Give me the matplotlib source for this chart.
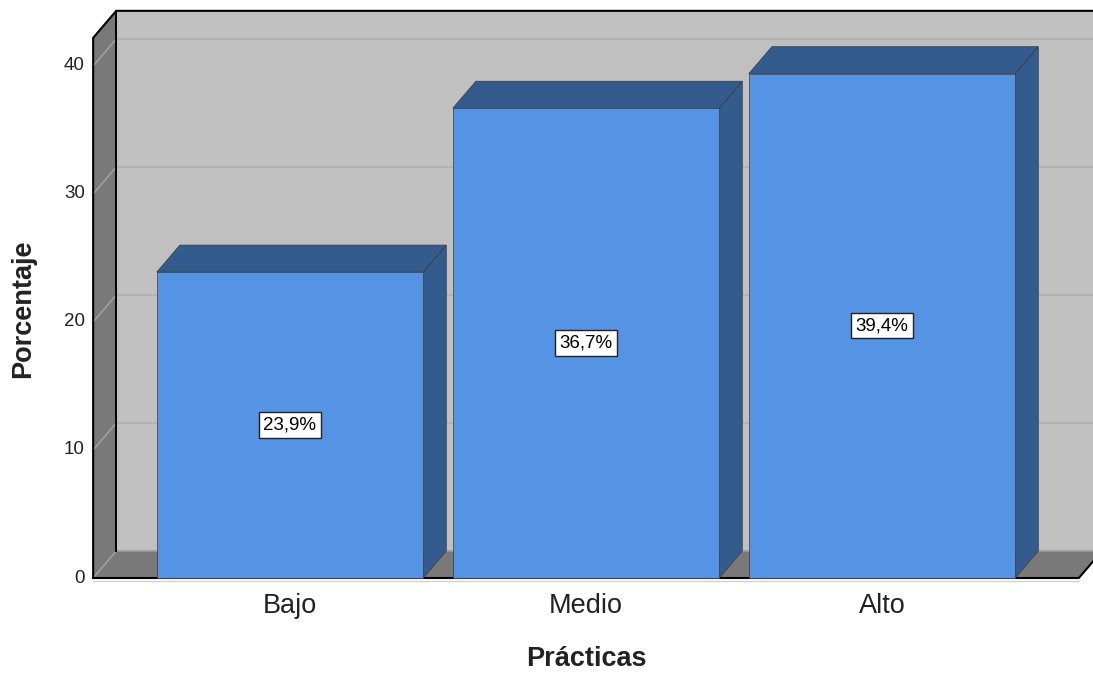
import matplotlib.pyplot as plt
from matplotlib.patches import Polygon

plt.rcParams["font.family"] = ["Liberation Sans", "DejaVu Sans"]

categories = ["Bajo", "Medio", "Alto"]
values = [23.9, 36.7, 39.4]
labels = ["23,9%", "36,7%", "39,4%"]
yticks = [0, 10, 20, 30, 40]
x_title = "Prácticas"
y_title = "Porcentaje"

# pseudo-3D geometry (data units)
BAR_W = 0.9
DX, DY = 0.078, 2.11
X0, X1 = -0.665, 2.665
YMAX = 42.2

FRONT = "#5594E4"
DARK = "#345B8E"
PLANE = "#C0C0C0"
WALL = "#797979"

fig = plt.figure(figsize=(10.93, 6.75), dpi=100)
ax = fig.add_axes([0, 0, 1, 1])
ax.set_xlim(-0.9797, 2.7128)
ax.set_ylim(-7.578, 45.156)
ax.axis("off")


def poly(pts, fc, ec="none", lw=0.0, z=1):
    ax.add_patch(Polygon(pts, closed=True, facecolor=fc, edgecolor=ec, linewidth=lw, zorder=z))


# back plane
poly([(X0 + DX, DY), (X1 + DX, DY), (X1 + DX, YMAX + DY), (X0 + DX, YMAX + DY)], PLANE, z=1)
# floor
poly([(X0, 0), (X1, 0), (X1 + DX, DY), (X0 + DX, DY)], WALL, z=2)
# left wall
poly([(X0, 0), (X0, YMAX), (X0 + DX, YMAX + DY), (X0 + DX, DY)], WALL, z=2)

# grid lines on back plane and left wall
for v in yticks:
    ax.plot([X0 + DX, X1 + DX], [v + DY, v + DY], color="#B0B0B0" if v else "#9C9C9C", lw=1.2, zorder=3)
    ax.plot([X0, X0 + DX], [v, v + DY], color="#A4A4A4", lw=1.0, zorder=3)

# frame lines
ax.plot([X0, X0, X0 + DX, X1 + DX + 0.2], [0, YMAX, YMAX + DY, YMAX + DY], color="black", lw=1.5, zorder=4)
ax.plot([X0 + DX, X0 + DX], [DY, YMAX + DY], color="black", lw=1.4, zorder=4)
ax.plot([X0, X1, X1 + DX], [0, 0, DY], color="black", lw=1.5, zorder=4)
ax.plot([X0, X1], [-0.2, -0.2], color="#D0D0D0", lw=1.0, zorder=3)

# bars
xs = list(range(len(categories)))
for x, v in zip(xs, values):
    l, r = x - BAR_W / 2, x + BAR_W / 2
    poly([(r, 0), (r + DX, DY), (r + DX, v + DY), (r, v)], DARK, "#3A3A3A", 0.5, z=5)
    poly([(l, v), (r, v), (r + DX, v + DY), (l + DX, v + DY)], DARK, "#3A3A3A", 0.5, z=5)
ax.bar(xs, values, width=BAR_W, color=FRONT, edgecolor="#3A3A3A", linewidth=0.5, zorder=6)

for x, v, t in zip(xs, values, labels):
    ax.text(x, v / 2, t, ha="center", va="center", fontsize=13.5, color="black", zorder=7,
            bbox=dict(boxstyle="square,pad=0.22", facecolor="white", edgecolor="#222222", linewidth=1.0))

# tick labels
for t in yticks:
    ax.text(-0.693, t, str(t), ha="right", va="center", fontsize=13.5, color="#222222")
for x, c in zip(xs, categories):
    ax.text(x, -2.15, c, ha="center", va="center", fontsize=19.5, color="#222222")

ax.text(1.0, -6.35, x_title, ha="center", va="center", fontsize=19.5, fontweight="bold", color="#222222")
ax.text(-0.902, 21.05, y_title, ha="center", va="center", rotation=90, fontsize=19.5,
        fontweight="bold", color="#222222")

fig.savefig("out.png", dpi=100)
